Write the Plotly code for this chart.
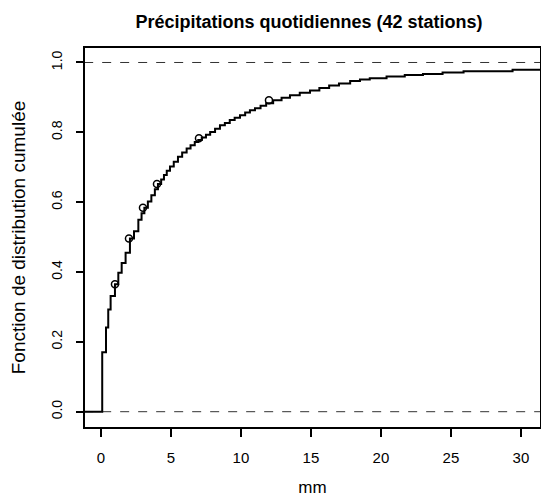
import plotly.graph_objects as go

# ECDF step points (mm, cumulative probability)
step_x = [-1.2, 0.09, 0.36, 0.52, 0.69, 1.0, 1.24, 1.48, 1.76, 2.07, 2.36, 2.67, 2.9, 3.1,
          3.35, 3.6, 3.85, 4.07, 4.3, 4.5, 4.7, 4.93, 5.2, 5.5, 5.8, 6.12, 6.4, 6.7, 6.95,
          7.2, 7.5, 7.8, 8.15, 8.5, 8.85, 9.2, 9.55, 9.93, 10.3, 10.64, 11.0, 11.4, 11.8,
          12.3, 12.9, 13.5, 14.2, 14.93, 15.6, 16.3, 17.0, 17.8, 18.5, 19.2, 20.4, 21.7,
          23.0, 24.4, 25.9, 29.4, 32.0]
step_y = [0.0, 0.17, 0.241, 0.293, 0.331, 0.365, 0.398, 0.426, 0.455, 0.496, 0.517, 0.55, 0.568, 0.584,
          0.602, 0.62, 0.637, 0.652, 0.665, 0.678, 0.69, 0.702, 0.716, 0.73, 0.742, 0.754, 0.763, 0.772, 0.778,
          0.785, 0.793, 0.801, 0.81, 0.82, 0.827, 0.835, 0.842, 0.849, 0.857, 0.863, 0.869, 0.876, 0.883,
          0.892, 0.899, 0.906, 0.913, 0.92, 0.927, 0.934, 0.94, 0.947, 0.951, 0.955, 0.96, 0.964,
          0.967, 0.971, 0.975, 0.979, 0.979]

# marked points (circles)
mark_x = [1, 2, 3, 4, 7, 12]
mark_y = [0.365, 0.496, 0.584, 0.652, 0.783, 0.892]

x_ticks = [0, 5, 10, 15, 20, 25, 30]
y_ticks = [0.0, 0.2, 0.4, 0.6, 0.8, 1.0]
y_tick_labels = ["0.0", "0.2", "0.4", "0.6", "0.8", "1.0"]
ref_levels = [0.0, 1.0]

FONT = "Liberation Sans, Arial, sans-serif"

fig = go.Figure()

for lv in ref_levels:
    fig.add_trace(go.Scatter(x=[-1.2, 32], y=[lv, lv], mode="lines",
                             line=dict(color="#333333", width=1, dash="dash"),
                             hoverinfo="skip", showlegend=False))

fig.add_trace(go.Scatter(x=step_x, y=step_y, mode="lines", line_shape="hv",
                         line=dict(color="black", width=2), showlegend=False))

fig.add_trace(go.Scatter(x=mark_x, y=mark_y, mode="markers",
                         marker=dict(symbol="circle-open", size=7, color="black",
                                     line=dict(width=1.5, color="black")),
                         showlegend=False))

fig.update_layout(
    width=541, height=501,
    margin=dict(l=85, r=1, t=48, b=74, autoexpand=False),
    paper_bgcolor="white", plot_bgcolor="white",
    font=dict(family=FONT, size=14, color="black"),
    title=dict(text="<b>Précipitations quotidiennes (42 stations)</b>",
               x=309 / 541, xanchor="center", y=1 - 22 / 501, yanchor="middle",
               font=dict(family=FONT, size=18, color="black")),
    xaxis=dict(range=[-1.14, 31.36], tickvals=x_ticks, ticks="outside", ticklen=8,
               tickwidth=1.5, tickcolor="black", showgrid=False, zeroline=False,
               showline=True, linecolor="black", linewidth=1.5, mirror=True,
               automargin=False, ticklabelstandoff=8,
               title=dict(text="mm", standoff=16, font=dict(size=17)),
               tickfont=dict(size=15)),
    yaxis=dict(range=[-0.0438, 1.0415], tickvals=y_ticks, ticktext=y_tick_labels,
               ticks="outside", ticklen=7, tickwidth=1.5, tickcolor="black",
               tickangle=-90, showgrid=False, zeroline=False,
               showline=True, linecolor="black", linewidth=1.5, mirror=True,
               automargin=False, ticklabelstandoff=9,
               title=dict(text="Fonction de distribution cumulée", standoff=18,
                          font=dict(size=19)),
               tickfont=dict(size=14)),
)

fig.write_html("out.html", config={"displayModeBar": False},
               post_script="document.body.style.margin='0px';document.body.style.overflow='hidden';")
